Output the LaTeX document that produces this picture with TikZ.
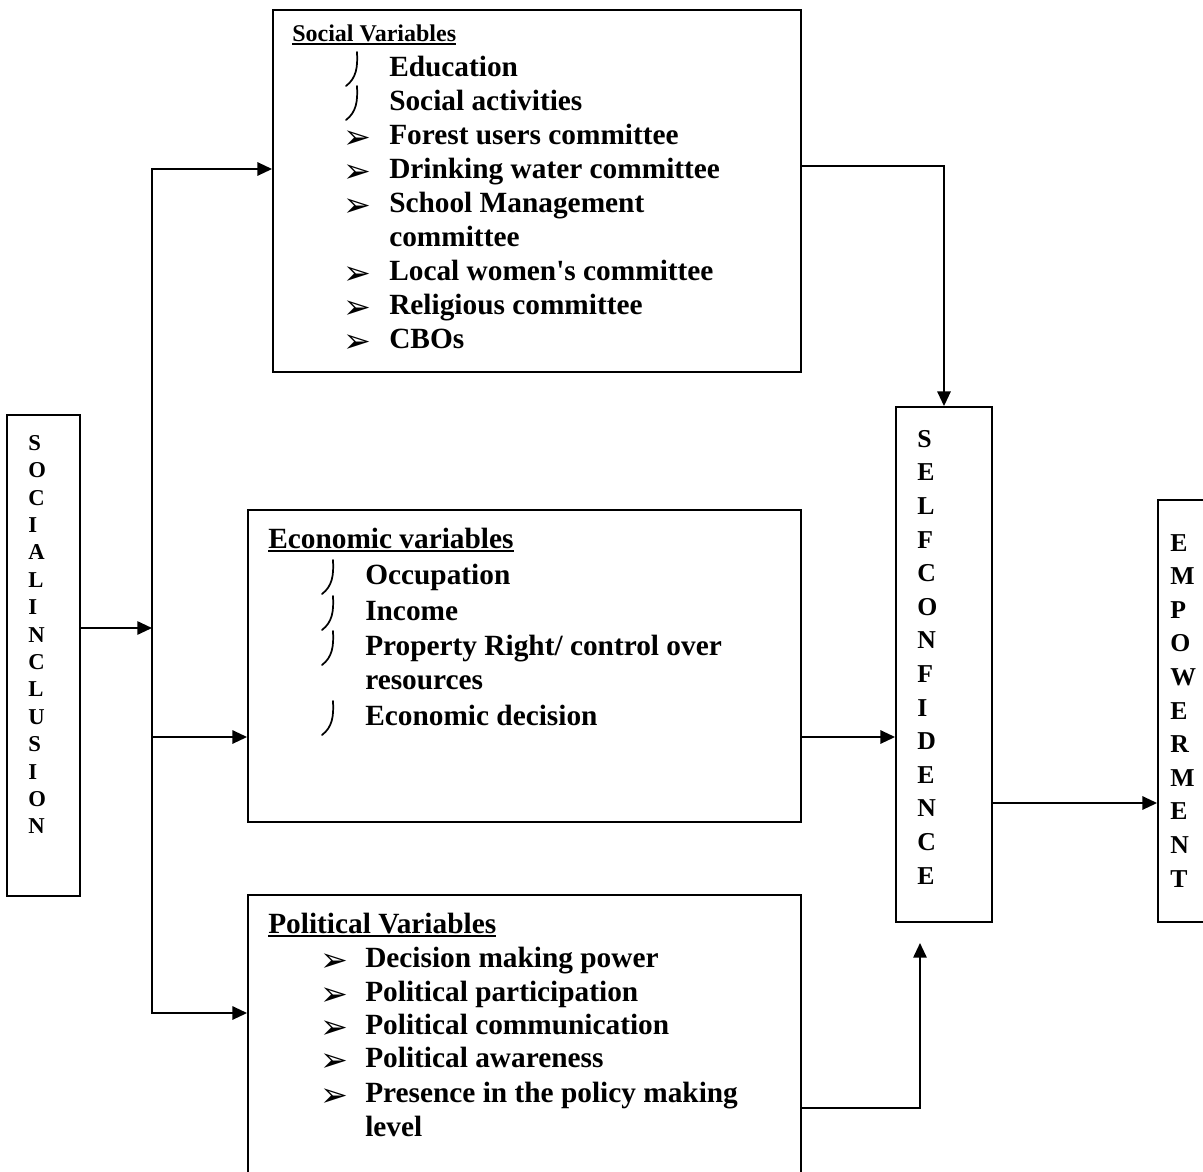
\documentclass[tikz,border=0pt]{standalone}
\usepackage{fontspec}
\setmainfont{Liberation Serif}
\newfontfamily\djv{DejaVu Sans}
\usetikzlibrary{arrows.meta,fit}
\tikzset{pics/hookbul/.style={code={\draw[line width=1.3pt, line cap=round] (0,0) .. controls (0.8,15) and (-0.5,26) .. (-11,34);}}}
\begin{document}
\begin{tikzpicture}[x=0.75pt,y=-0.75pt,
  box/.style={draw, line width=1.4pt, inner sep=0pt},
  arr/.style={line width=1.4pt, -{Triangle[length=11pt,width=10pt]}},
  trunk/.style={line width=1.4pt, line cap=rect},
  item/.style={anchor=base west, inner sep=0pt, font=\fontsize{22}{26}\selectfont\bfseries},
  shead/.style={anchor=base west, inner sep=0pt, font=\fontsize{18}{21}\selectfont\bfseries},
  abul/.style={anchor=base west, inner sep=0pt, font=\djv\fontsize{25}{28}\selectfont},
  uline/.style={line width=1.3pt},
  vlet/.style={anchor=north west, inner sep=0pt, align=left},
]
\useasboundingbox (0,0) rectangle (1203,1171);
\clip (0,0) rectangle (1203,1171);

% boxes
\node[box, fit={(273,10) (801,372)}] (social) {};
\node[box, fit={(7,415) (80,896)}] (si) {};
\node[box, fit={(248,510) (801,822)}] (econ) {};
\node[box, fit={(248,895) (801,1260)}] (pol) {};
\node[box, fit={(896,407) (992,922)}] (selfc) {};
\node[box, fit={(1158,500) (1270,922)}] (emp) {};

% vertical labels
\node[vlet, font=\fontsize{17}{20.55}\selectfont\bfseries] (silab) at (28,435)
  {S\\O\\C\\I\\A\\L\\I\\N\\C\\L\\U\\S\\I\\O\\N};
\node[vlet, font=\fontsize{19.3}{25.2}\selectfont\bfseries] (sclab) at (917,430)
  {S\\E\\L\\F\\C\\O\\N\\F\\I\\D\\E\\N\\C\\E};
\node[vlet, font=\fontsize{19.3}{25.2}\selectfont\bfseries] (emlab) at (1170,534)
  {E\\M\\P\\O\\W\\E\\R\\M\\E\\N\\T};

% connector coordinates
\coordinate (tTop) at (152,169);
\coordinate (tMid) at (152,628);
\coordinate (tEcon) at (152,737);
\coordinate (tBot) at (152,1013);
\coordinate (sc) at (944,166);
\coordinate (ec) at (850,737);
\coordinate (em) at (1080,803);
\coordinate (pc) at (920,1108);
\coordinate (pTip) at (920,943);

\draw[trunk] (tTop) -- (tBot);
\draw[arr] (si.east |- tMid) -- (tMid);
\draw[arr] (tTop) -- (tTop -| social.west);
\draw[arr] (tEcon) -- (tEcon -| econ.west);
\draw[arr] (tBot) -- (tBot -| pol.west);
\draw[arr] (social.east |- sc) -| (selfc.north -| sc);
\draw[arr] (econ.east |- ec) -- (selfc.west |- ec);
\draw[arr] (selfc.east |- em) -- (emp.west |- em);
\draw[arr] (pol.east |- pc) -| (pTip);

% social variables
\node[shead] (sh) at (292,41) {Social Variables};
\draw[uline] ([yshift=-2.5pt]sh.base west) -- ([yshift=-2.5pt]sh.base east);
\pic at (357,52) {hookbul};
\node[item] (s1) at (389,76) {Education};
\pic at (357,86) {hookbul};
\node[item] (s2) at (389,110) {Social activities};
\node[abul] (b3) at (343,148) {➢};
\node[item] (s3) at (389,144) {Forest users committee};
\node[abul] (b4) at (343,182) {➢};
\node[item] (s4) at (389,178) {Drinking water committee};
\node[abul] (b5) at (343,216) {➢};
\node[item] (s5) at (389,212) {School Management};
\node[item] (s5b) at (389,246) {committee};
\node[abul] (b6) at (343,284) {➢};
\node[item] (s6) at (389,280) {Local women\textquotesingle s committee};
\node[abul] (b7) at (343,318) {➢};
\node[item] (s7) at (389,314) {Religious committee};
\node[abul] (b8) at (343,352) {➢};
\node[item] (s8) at (389,348) {CBOs};

% economic variables
\node[item] (eh) at (268,548) {Economic variables};
\draw[uline] ([yshift=-2.5pt]eh.base west) -- ([yshift=-2.5pt]eh.base east);
\pic at (333,560) {hookbul};
\node[item] (e1) at (365,584) {Occupation};
\pic at (333,596) {hookbul};
\node[item] (e2) at (365,620) {Income};
\pic at (333,631) {hookbul};
\node[item] (e3) at (365,655) {Property Right/ control over};
\node[item] (e3b) at (365,689) {resources};
\pic at (333,701) {hookbul};
\node[item] (e4) at (365,725) {Economic decision};

% political variables
\node[item] (ph) at (268,933) {Political Variables};
\draw[uline] ([yshift=-2.5pt]ph.base west) -- ([yshift=-2.5pt]ph.base east);
\node[abul] (c1) at (320,971) {➢};
\node[item] (p1) at (365,967) {Decision making power};
\node[abul] (c2) at (320,1005) {➢};
\node[item] (p2) at (365,1001) {Political participation};
\node[abul] (c3) at (320,1038) {➢};
\node[item] (p3) at (365,1034) {Political communication};
\node[abul] (c4) at (320,1071) {➢};
\node[item] (p4) at (365,1067) {Political awareness};
\node[abul] (c5) at (320,1106) {➢};
\node[item] (p5) at (365,1102) {Presence in the policy making};
\node[item] (p5b) at (365,1136) {level};
\end{tikzpicture}
\end{document}
